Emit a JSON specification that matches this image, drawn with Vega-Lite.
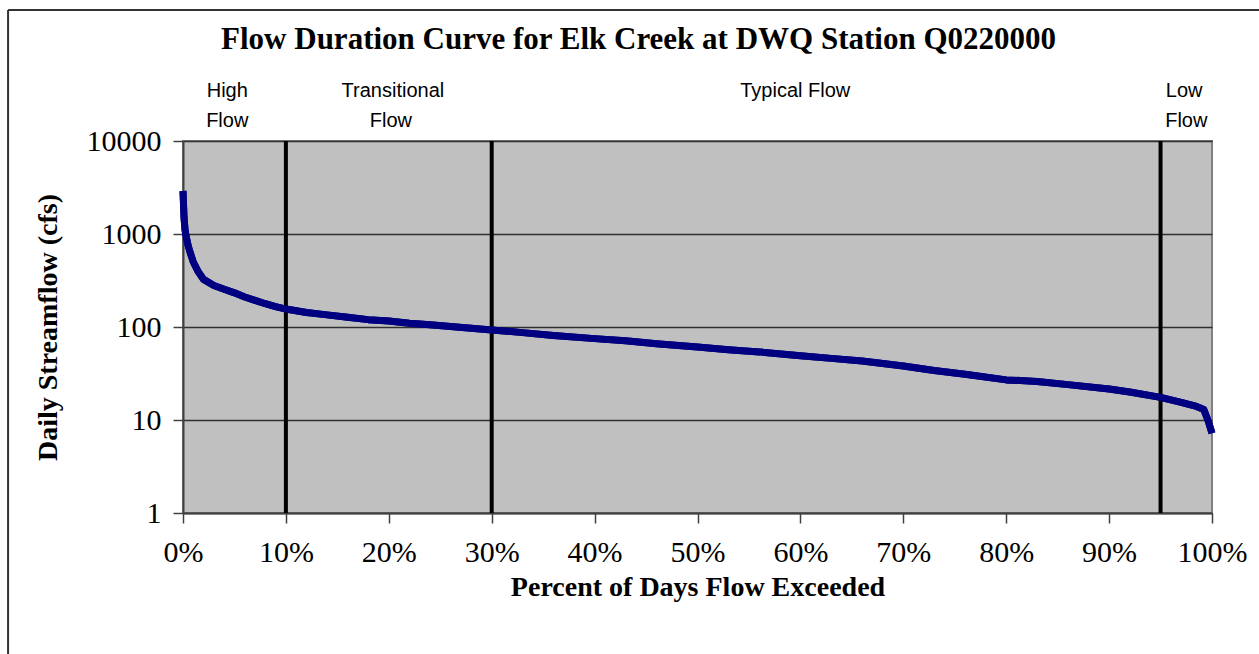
{
  "$schema": "https://vega.github.io/schema/vega-lite/v6.json",
  "autosize": {"type": "none"},
  "width": 1029,
  "height": 372,
  "padding": {"left": 183, "top": 141, "right": 47, "bottom": 141},
  "background": "white",
  "config": {
    "view": {"fill": "#C0C0C0", "stroke": "#808080", "strokeWidth": 2},
    "axis": {
      "labelFont": "Liberation Serif",
      "labelFontSize": 30,
      "labelColor": "black",
      "titleFont": "Liberation Serif",
      "titleFontSize": 28,
      "titleFontWeight": "bold",
      "titleColor": "black",
      "domainColor": "#404040",
      "domainWidth": 2,
      "tickColor": "#404040",
      "tickWidth": 1.5,
      "tickSize": 10,
      "labelFlush": false,
      "labelOverlap": false
    }
  },
  "datasets": {
    "curve": [
      {"pct": 0, "flow": 2900},
      {"pct": 0.1, "flow": 1500},
      {"pct": 0.2, "flow": 1100},
      {"pct": 0.3, "flow": 950},
      {"pct": 0.5, "flow": 750},
      {"pct": 0.7, "flow": 630},
      {"pct": 1.0, "flow": 500},
      {"pct": 1.5, "flow": 390},
      {"pct": 2, "flow": 325},
      {"pct": 3, "flow": 280},
      {"pct": 4, "flow": 255},
      {"pct": 5, "flow": 233},
      {"pct": 6, "flow": 210},
      {"pct": 7, "flow": 193},
      {"pct": 8, "flow": 178},
      {"pct": 9, "flow": 166},
      {"pct": 10, "flow": 156},
      {"pct": 12, "flow": 143},
      {"pct": 14, "flow": 135},
      {"pct": 16, "flow": 127},
      {"pct": 18, "flow": 120},
      {"pct": 20, "flow": 116},
      {"pct": 22, "flow": 110},
      {"pct": 24, "flow": 106},
      {"pct": 26, "flow": 101},
      {"pct": 28, "flow": 97},
      {"pct": 30, "flow": 93},
      {"pct": 33, "flow": 87},
      {"pct": 36, "flow": 81},
      {"pct": 40, "flow": 75},
      {"pct": 43, "flow": 71},
      {"pct": 46, "flow": 66},
      {"pct": 50, "flow": 61},
      {"pct": 53, "flow": 57},
      {"pct": 56, "flow": 54},
      {"pct": 60, "flow": 49},
      {"pct": 63, "flow": 46},
      {"pct": 66, "flow": 43},
      {"pct": 70, "flow": 38},
      {"pct": 73, "flow": 34},
      {"pct": 76, "flow": 31},
      {"pct": 80, "flow": 27},
      {"pct": 83, "flow": 26},
      {"pct": 86, "flow": 24},
      {"pct": 90, "flow": 21.5},
      {"pct": 92, "flow": 20},
      {"pct": 95, "flow": 17.5},
      {"pct": 97, "flow": 15.5},
      {"pct": 98.5, "flow": 14},
      {"pct": 99.2, "flow": 13},
      {"pct": 99.6, "flow": 10},
      {"pct": 100, "flow": 7.2}
    ],
    "dividers": [{"pct": 10}, {"pct": 30}, {"pct": 95}],
    "labels": [
      {"pct": 4.3, "flow": 34500, "text": "High"},
      {"pct": 4.3, "flow": 16400, "text": "Flow"},
      {"pct": 20.4, "flow": 34500, "text": "Transitional"},
      {"pct": 20.2, "flow": 16400, "text": "Flow"},
      {"pct": 59.5, "flow": 34500, "text": "Typical Flow"},
      {"pct": 97.3, "flow": 34500, "text": "Low"},
      {"pct": 97.5, "flow": 16400, "text": "Flow"}
    ],
    "titles": [
      {"pct": 44.27, "flow": 121900, "text": "Flow Duration Curve for Elk Creek at DWQ Station Q0220000"}
    ]
  },
  "layer": [
    {
      "data": {"name": "curve"},
      "mark": {"type": "line", "color": "#000080", "strokeWidth": 7, "strokeJoin": "round"},
      "encoding": {
        "x": {
          "field": "pct", "type": "quantitative",
          "scale": {"domain": [0, 100], "nice": false, "zero": false},
          "axis": {
            "title": "Percent of Days Flow Exceeded",
            "values": [0, 10, 20, 30, 40, 50, 60, 70, 80, 90, 100],
            "labelExpr": "datum.value + '%'",
            "grid": false,
            "labelPadding": 14,
            "titlePadding": 6
          }
        },
        "y": {
          "field": "flow", "type": "quantitative",
          "scale": {"type": "log", "domain": [1, 10000], "nice": false},
          "axis": {
            "title": "Daily Streamflow (cfs)",
            "values": [1, 10, 100, 1000, 10000],
            "format": "d",
            "grid": true,
            "gridColor": "#303030",
            "gridWidth": 1.5,
            "gridOpacity": 1,
            "labelPadding": 12,
            "titlePadding": 24
          }
        }
      }
    },
    {
      "data": {"name": "dividers"},
      "mark": {"type": "rule", "color": "black", "strokeWidth": 4},
      "encoding": {
        "x": {"field": "pct", "type": "quantitative"}
      }
    },
    {
      "data": {"name": "curve"},
      "mark": {"type": "line", "color": "#000080", "strokeWidth": 7, "strokeJoin": "round"},
      "encoding": {
        "x": {"field": "pct", "type": "quantitative"},
        "y": {"field": "flow", "type": "quantitative"}
      }
    },
    {
      "data": {"name": "labels"},
      "mark": {"type": "text", "font": "Liberation Sans", "fontSize": 20, "color": "black", "align": "center", "baseline": "middle"},
      "encoding": {
        "x": {"field": "pct", "type": "quantitative"},
        "y": {"field": "flow", "type": "quantitative"},
        "text": {"field": "text"}
      }
    },
    {
      "data": {"name": "titles"},
      "mark": {"type": "text", "font": "Liberation Serif", "fontSize": 31, "fontWeight": "bold", "color": "black", "align": "center", "baseline": "middle"},
      "encoding": {
        "x": {"field": "pct", "type": "quantitative"},
        "y": {"field": "flow", "type": "quantitative"},
        "text": {"field": "text"}
      }
    },
    {
      "data": {"values": [{"x": -17.0, "x2": 106, "y": 256400}]},
      "mark": {"type": "rule", "color": "#333333", "strokeWidth": 2},
      "encoding": {
        "x": {"field": "x", "type": "quantitative"},
        "x2": {"field": "x2"},
        "y": {"field": "y", "type": "quantitative"}
      }
    },
    {
      "data": {"values": [{"x": -17.0, "y": 0.01, "y2": 256400}]},
      "mark": {"type": "rule", "color": "#333333", "strokeWidth": 2},
      "encoding": {
        "x": {"field": "x", "type": "quantitative"},
        "y": {"field": "y", "type": "quantitative"},
        "y2": {"field": "y2"}
      }
    }
  ]
}
